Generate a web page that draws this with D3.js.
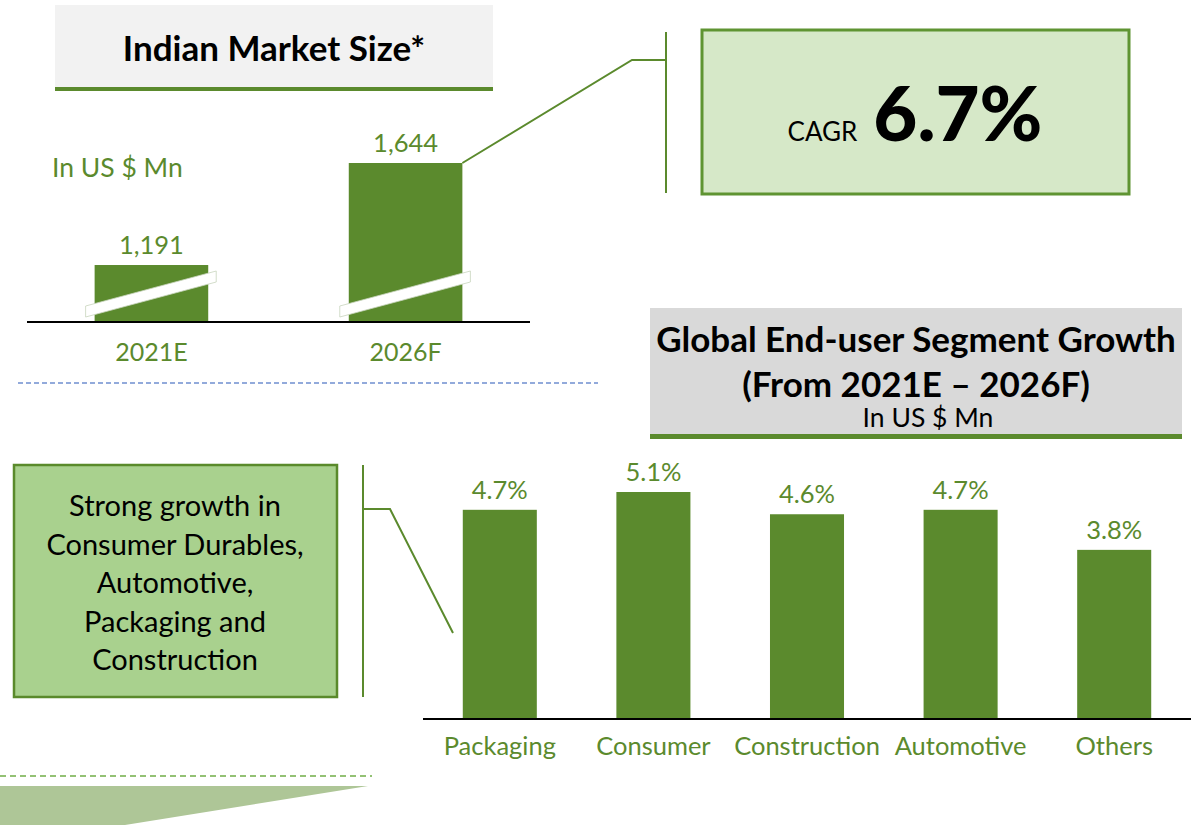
<!DOCTYPE html>
<html>
<head>
<meta charset="utf-8">
<script src="https://cdn.jsdelivr.net/npm/d3@7"></script>
<style>
  html, body { margin: 0; padding: 0; background: #ffffff; }
  svg { display: block; font-family: Lato, "Open Sans", sans-serif; }
</style>
</head>
<body>
<svg id="chart" width="1191" height="825"></svg>
<script>
// ---- data ----
const marketYears = ["2021E", "2026F"];
const marketValues = [1191, 1644];
const marketTitle = "Indian Market Size*";
const marketUnit = "In US $ Mn";
const cagrLabel = "CAGR";
const cagrValue = "6.7%";

const segments = ["Packaging", "Consumer", "Construction", "Automotive", "Others"];
const segmentGrowth = [4.7, 5.1, 4.6, 4.7, 3.8];
const segmentTitle = ["Global End-user Segment Growth", "(From 2021E \u2013 2026F)"];
const segmentUnit = "In US $ Mn";
const noteLines = ["Strong growth in", "Consumer Durables,", "Automotive,", "Packaging and", "Construction"];

// ---- colours ----
const GREEN = "#5b8a2d";
const GREEN_TEXT = "#5b8a2d";

const svg = d3.select("#chart");

// ================= Top: Indian market size =================
svg.append("rect").attr("x", 55).attr("y", 5).attr("width", 438).attr("height", 84).attr("fill", "#f2f2f2");
svg.append("rect").attr("x", 55).attr("y", 87).attr("width", 438).attr("height", 4).attr("fill", GREEN);
svg.append("text").attr("x", 274).attr("y", 61).attr("text-anchor", "middle")
  .attr("font-size", 35).attr("font-weight", 700).attr("fill", "#000").text(marketTitle);

svg.append("text").attr("x", 52).attr("y", 177).attr("font-size", 26.5).attr("fill", GREEN_TEXT).text(marketUnit);

const xTop = d3.scaleBand().domain(marketYears).range([26, 531]).paddingInner(0.553).paddingOuter(0.27);
// broken axis: scale starts above zero (bars carry break marks)
const yTop = d3.scaleLinear().domain([938, 1644]).range([322, 163]);
const bwTop = xTop.bandwidth();

const topBars = svg.append("g");
marketYears.forEach((yr, i) => {
  const x = xTop(yr), v = marketValues[i];
  topBars.append("rect").attr("x", x).attr("y", yTop(v)).attr("width", bwTop)
    .attr("height", yTop.range()[0] - yTop(v)).attr("fill", GREEN);
  const base = yTop.range()[0];
  const xl = x - 9, xr = x + bwTop + 8;
  const pts = [[xl, base - 16], [xr, base - 51], [xr, base - 40], [xl, base - 5]];
  topBars.append("polygon").attr("points", pts.map(p => p.join(",")).join(" "))
    .attr("fill", "#ffffff").attr("stroke", "#c8d4bc").attr("stroke-width", 0.8);
  topBars.append("text").attr("x", x + bwTop / 2).attr("y", yTop(v) - 11).attr("text-anchor", "middle")
    .attr("font-size", 25.5).attr("fill", GREEN_TEXT).text(d3.format(",")(v));
});
const axTop = svg.append("g").attr("transform", `translate(0,${yTop.range()[0]})`)
  .call(d3.axisBottom(xTop).tickSize(0).tickPadding(0));
axTop.select(".domain").attr("d", "M27,0H530").attr("stroke", "#000").attr("stroke-width", 2.2);
axTop.selectAll(".tick text").attr("dy", null).attr("y", 39).attr("font-size", 25)
  .attr("font-family", "Lato, 'Open Sans', sans-serif").attr("fill", GREEN_TEXT);

svg.append("line").attr("x1", 18).attr("x2", 598).attr("y1", 383).attr("y2", 383)
  .attr("stroke", "#6f8fcf").attr("stroke-width", 1.3).attr("stroke-dasharray", "5,3");

// CAGR connector
const lastYr = marketYears[marketYears.length - 1];
svg.append("polyline")
  .attr("points", [[xTop(lastYr) + bwTop, yTop(marketValues[1])], [632, 60], [666, 60]].map(p => p.join(",")).join(" "))
  .attr("fill", "none").attr("stroke", GREEN).attr("stroke-width", 2);
svg.append("line").attr("x1", 666).attr("x2", 666).attr("y1", 32).attr("y2", 193)
  .attr("stroke", GREEN).attr("stroke-width", 2);

// CAGR box
svg.append("rect").attr("x", 702).attr("y", 30).attr("width", 427).attr("height", 164)
  .attr("fill", "#d6e8c8").attr("stroke", "#5f9432").attr("stroke-width", 3);
const cagrT = svg.append("text").attr("x", 915).attr("y", 141).attr("text-anchor", "middle").attr("fill", "#000");
cagrT.append("tspan").attr("font-size", 26).text(cagrLabel);
cagrT.append("tspan").attr("dx", 16).attr("font-size", 76).attr("font-weight", 900).text(cagrValue);

// ================= Bottom: segment growth =================
svg.append("rect").attr("x", 650).attr("y", 308).attr("width", 532).attr("height", 128).attr("fill", "#d9d9d9");
svg.append("rect").attr("x", 650).attr("y", 434).attr("width", 532).attr("height", 5).attr("fill", GREEN);
svg.append("text").attr("x", 916).attr("y", 352).attr("text-anchor", "middle")
  .attr("font-size", 35).attr("font-weight", 700).attr("fill", "#000").text(segmentTitle[0]);
svg.append("text").attr("x", 916).attr("y", 397).attr("text-anchor", "middle")
  .attr("font-size", 35).attr("font-weight", 700).attr("fill", "#000").text(segmentTitle[1]);
svg.append("text").attr("x", 928).attr("y", 427).attr("text-anchor", "middle")
  .attr("font-size", 26.5).attr("fill", "#000").text(segmentUnit);

const xSeg = d3.scaleBand().domain(segments).range([423, 1191]).paddingInner(0.518).paddingOuter(0.259);
const ySeg = d3.scaleLinear().domain([0, 5.1]).range([719, 492]);

svg.append("g").selectAll("rect").data(segments).join("rect")
  .attr("x", d => xSeg(d)).attr("y", (d, i) => ySeg(segmentGrowth[i]))
  .attr("width", xSeg.bandwidth()).attr("height", (d, i) => ySeg(0) - ySeg(segmentGrowth[i]))
  .attr("fill", GREEN);
svg.append("g").selectAll("text").data(segments).join("text")
  .attr("x", d => xSeg(d) + xSeg.bandwidth() / 2).attr("y", (d, i) => ySeg(segmentGrowth[i]) - 11)
  .attr("text-anchor", "middle").attr("font-size", 25.5).attr("fill", GREEN_TEXT)
  .text((d, i) => segmentGrowth[i].toFixed(1) + "%");

const axSeg = svg.append("g").attr("transform", `translate(0,${ySeg(0)})`)
  .call(d3.axisBottom(xSeg).tickSize(0).tickPadding(0));
axSeg.select(".domain").attr("d", "M423,0H1191").attr("stroke", "#000").attr("stroke-width", 2.2);
axSeg.selectAll(".tick text").attr("dy", null).attr("y", 36).attr("font-size", 25.5)
  .attr("font-family", "Lato, 'Open Sans', sans-serif").attr("fill", GREEN_TEXT);

// note box
svg.append("rect").attr("x", 14).attr("y", 465).attr("width", 323).attr("height", 232)
  .attr("fill", "#a9d18e").attr("stroke", "#5a8a2b").attr("stroke-width", 2.5);
svg.append("g").selectAll("text").data(noteLines).join("text")
  .attr("x", 175).attr("y", (d, i) => 516 + i * 38.5).attr("text-anchor", "middle")
  .attr("font-size", 29).attr("fill", "#000").text(d => d);

// bracket
svg.append("line").attr("x1", 363).attr("x2", 363).attr("y1", 465).attr("y2", 697)
  .attr("stroke", GREEN).attr("stroke-width", 2);
svg.append("polyline").attr("points", "363,509 390,509 453,633")
  .attr("fill", "none").attr("stroke", GREEN).attr("stroke-width", 2);

// bottom decoration
svg.append("line").attr("x1", 0).attr("x2", 372).attr("y1", 776).attr("y2", 776)
  .attr("stroke", "#70ad47").attr("stroke-width", 1.3).attr("stroke-dasharray", "6,4");
svg.append("polygon").attr("points", "0,786 368,786 125,825 0,825").attr("fill", "#aec697");
</script>
</body>
</html>
